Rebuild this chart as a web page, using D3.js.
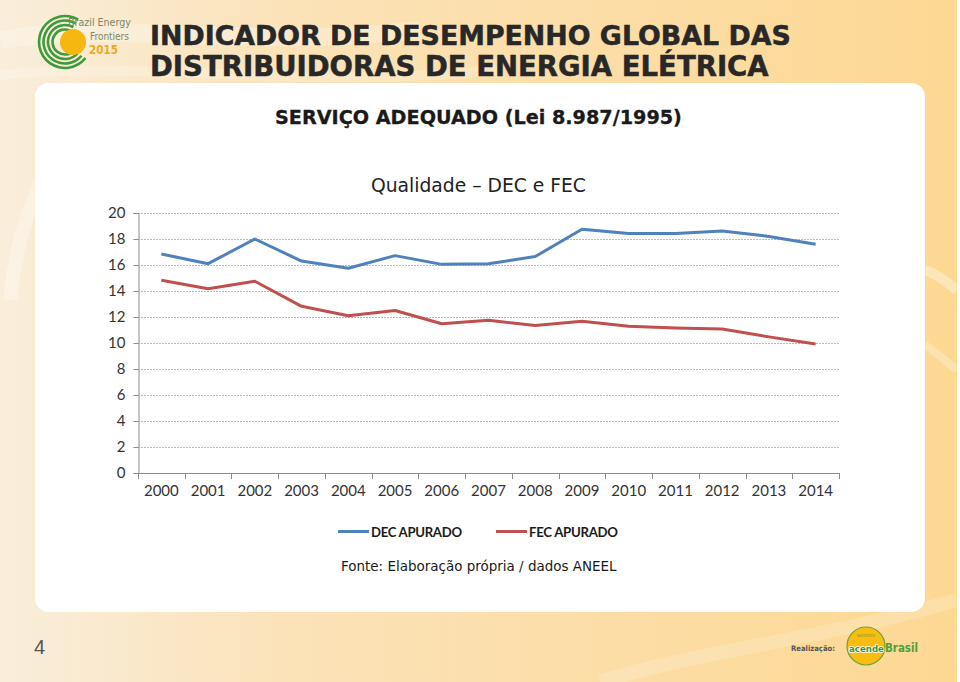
<!DOCTYPE html>
<html><head><meta charset="utf-8">
<script src="https://cdn.jsdelivr.net/npm/d3@7"></script>
<style>html,body{margin:0;padding:0;background:#fff;}svg{display:block;}</style>
</head><body>
<svg id="c" width="960" height="682"></svg>
<script>
const years = ["2000","2001","2002","2003","2004","2005","2006","2007","2008","2009","2010","2011","2012","2013","2014"];
const decValues = [16.85,16.1,18.0,16.3,15.75,16.72,16.05,16.1,16.65,18.75,18.42,18.42,18.62,18.2,17.6];
const fecValues = [14.82,14.18,14.75,12.82,12.1,12.5,11.48,11.75,11.35,11.68,11.28,11.15,11.08,10.47,9.92];
const yTicks = [0,2,4,6,8,10,12,14,16,18,20];
const seriesNames = ["DEC APURADO","FEC APURADO"];
const seriesColors = ["#4f81bd","#c0504d"];

const svg = d3.select("#c");
const defs = svg.append("defs");
const g1 = defs.append("linearGradient").attr("id","bg").attr("x1","0").attr("x2","1").attr("y1","0").attr("y2","0");
g1.append("stop").attr("offset","0").attr("stop-color","#f9eedb");
g1.append("stop").attr("offset","0.3").attr("stop-color","#fbe2b8");
g1.append("stop").attr("offset","1").attr("stop-color","#fdd893");
svg.append("rect").attr("width",957).attr("height",682).attr("fill","url(#bg)");
// decorative swooshes
const sw = svg.append("g").attr("fill","none").attr("stroke","#ffffff");
sw.append("path").attr("d","M0,40 C120,20 250,50 420,30").attr("stroke-width",18).attr("opacity",0.25);
sw.append("path").attr("d","M0,75 C150,60 300,90 500,70").attr("stroke-width",10).attr("opacity",0.2);
sw.append("path").attr("d","M10,300 C20,200 60,120 140,90").attr("stroke-width",14).attr("opacity",0.3);
sw.append("path").attr("d","M925,270 C940,275 950,285 957,290").attr("stroke-width",10).attr("opacity",0.35);
sw.append("path").attr("d","M925,345 C940,355 950,365 957,370").attr("stroke-width",8).attr("opacity",0.25);
sw.append("path").attr("d","M600,682 C700,650 820,640 957,600").attr("stroke-width",14).attr("opacity",0.18);

// white panel
svg.append("rect").attr("x",35).attr("y",83).attr("width",890).attr("height",529).attr("rx",14).attr("fill","#ffffff");

// logo top-left
const logo = svg.append("g");
const cx = 65, cy = 42;
[12.5, 17, 21.5, 26].forEach((r,i)=>{
  const arc = d3.arc().innerRadius(r-1.3).outerRadius(r+1.3)
    .startAngle(Math.PI*0.74 - i*0.03).endAngle(Math.PI*2 + Math.PI*0.16 + i*0.01);
  logo.append("path").attr("d",arc()).attr("transform",`translate(${cx},${cy})`).attr("fill","#3e9a3b");
});
logo.append("circle").attr("cx",73).attr("cy",42).attr("r",13).attr("fill","#f6b80f");
function fitText(sel, w){
  const n = sel.node(); const cur = n.getComputedTextLength();
  const fs = parseFloat(sel.attr("font-size"));
  sel.attr("font-size", fs*w/cur);
  return sel;
}
const lf = "'DejaVu Sans Condensed', 'Liberation Sans Narrow', sans-serif";
fitText(logo.append("text").attr("x",68).attr("y",26).text("Brazil Energy").attr("font-family",lf).attr("font-size",11).attr("fill","#7a8868"), 63);
fitText(logo.append("text").attr("x",90).attr("y",40).text("Frontiers").attr("font-family",lf).attr("font-size",11).attr("fill","#7a8868"), 39);
fitText(logo.append("text").attr("x",89).attr("y",54).text("2015").attr("font-family",lf).attr("font-weight","bold").attr("font-size",13).attr("fill","#efaa1c"), 29);

// titles
const tf = "'DejaVu Sans', Verdana, sans-serif";
const t1 = svg.append("text").attr("x",150).attr("y",45).text("INDICADOR DE DESEMPENHO GLOBAL DAS")
  .attr("font-family",tf).attr("font-weight","bold").attr("font-size",24).attr("fill","#282828")
  .attr("stroke","#282828").attr("stroke-width",0.5);
fitText(t1, 641);
const t2 = svg.append("text").attr("x",150).attr("y",76).text("DISTRIBUIDORAS DE ENERGIA ELÉTRICA")
  .attr("font-family",tf).attr("font-weight","bold").attr("font-size",24).attr("fill","#282828")
  .attr("stroke","#282828").attr("stroke-width",0.5);
fitText(t2, 619);
const t3 = svg.append("text").attr("x",275).attr("y",124).text("SERVIÇO ADEQUADO (Lei 8.987/1995)")
  .attr("font-family",tf).attr("font-weight","bold").attr("font-size",18).attr("fill","#1a1a1a")
  .attr("stroke","#1a1a1a").attr("stroke-width",0.3);
fitText(t3, 407);
const t4 = svg.append("text").attr("x",371).attr("y",192).text("Qualidade – DEC e FEC")
  .attr("font-family",tf).attr("font-size",18).attr("fill","#222");
fitText(t4, 215);

// chart
const x = d3.scaleBand().domain(years).range([138,839]).paddingInner(0).paddingOuter(0);
const y = d3.scaleLinear().domain([0,20]).range([473,213]);
const chart = svg.append("g");
chart.append("g").selectAll("line").data(yTicks.filter(d=>d>0)).join("line")
  .attr("x1",138).attr("x2",839).attr("y1",d=>y(d)+0.5).attr("y2",d=>y(d)+0.5)
  .attr("stroke","#b8b8b8").attr("stroke-width",1).attr("stroke-dasharray","2,1");
const yAxis = chart.append("g").attr("transform","translate(138.5,0)")
  .call(d3.axisLeft(y).tickValues(yTicks).tickSize(5).tickPadding(8));
yAxis.select(".domain").attr("stroke","#8c8c8c");
yAxis.selectAll(".tick line").attr("stroke","#8c8c8c");
yAxis.selectAll("text").attr("font-family","Lato, 'Open Sans', sans-serif").attr("font-size",15).attr("fill","#333");
const xAxis = chart.append("g").attr("transform","translate(0,473.5)")
  .call(d3.axisBottom(x).tickSize(0).tickPadding(12));
xAxis.select(".domain").attr("stroke","#8c8c8c").attr("d","M138.5,0H839.5");
xAxis.selectAll("text").attr("font-family","Lato, 'Open Sans', sans-serif").attr("font-size",15).attr("fill","#333");
// category boundary ticks
const bounds = years.map(d=>x(d)).concat([x.range()[1]]);
chart.append("g").selectAll("line").data(bounds).join("line")
  .attr("x1",d=>Math.round(d)+0.5).attr("x2",d=>Math.round(d)+0.5).attr("y1",473).attr("y2",479)
  .attr("stroke","#8c8c8c");

const line = d3.line().x((d,i)=>x(years[i])+x.bandwidth()/2).y(d=>y(d));
[decValues, fecValues].forEach((vals,i)=>{
  chart.append("path").attr("d",line(vals)).attr("fill","none").attr("stroke",seriesColors[i])
    .attr("stroke-width",3).attr("stroke-linejoin","round").attr("stroke-linecap","butt");
});

// legend
const lg = svg.append("g");
const legX = [338, 496];
seriesNames.forEach((n,i)=>{
  lg.append("line").attr("x1",legX[i]).attr("x2",legX[i]+31).attr("y1",531.5).attr("y2",531.5)
    .attr("stroke",seriesColors[i]).attr("stroke-width",3);
  const tt = lg.append("text").attr("x",legX[i]+33).attr("y",536.5).text(n)
    .attr("font-family","Lato, 'Open Sans', sans-serif").attr("font-weight","bold").attr("font-size",14).attr("fill","#1a1a1a")
    .attr("letter-spacing",-0.3);
  fitText(tt, i===0?91:89);
});
const src = svg.append("text").attr("x",341).attr("y",571).text("Fonte: Elaboração própria / dados ANEEL")
  .attr("font-family",tf).attr("font-size",13).attr("fill","#1a1a1a");
fitText(src, 276);

// page number
svg.append("text").attr("x",34).attr("y",654).text("4").attr("font-family","Liberation Sans, Arial, sans-serif")
  .attr("font-size",20).attr("fill","#555");

// bottom-right logo
const br = svg.append("g");
fitText(br.append("text").attr("x",791).attr("y",651).text("Realização:").attr("font-family",lf)
  .attr("font-weight","bold").attr("font-size",10).attr("fill","#555"), 44);
br.append("circle").attr("cx",866).attr("cy",646).attr("r",19).attr("fill","#f7bd12").attr("stroke","#6aa33a").attr("stroke-width",1.2);
fitText(br.append("text").attr("x",849).attr("y",652).text("acende").attr("font-family",lf)
  .attr("font-weight","bold").attr("font-size",13).attr("fill","#3f8f34")
  .attr("stroke","#ffffff").attr("stroke-width",1.6).attr("paint-order","stroke").attr("stroke-linejoin","round"), 35);
fitText(br.append("text").attr("x",857).attr("y",637).text("INSTITUTO").attr("font-family",lf)
  .attr("font-size",4).attr("fill","#6a8f3a"), 18);
fitText(br.append("text").attr("x",885).attr("y",652).text("Brasil").attr("font-family",lf)
  .attr("font-weight","bold").attr("font-size",15).attr("fill","#4ea03c"), 33);
</script>
</body></html>
